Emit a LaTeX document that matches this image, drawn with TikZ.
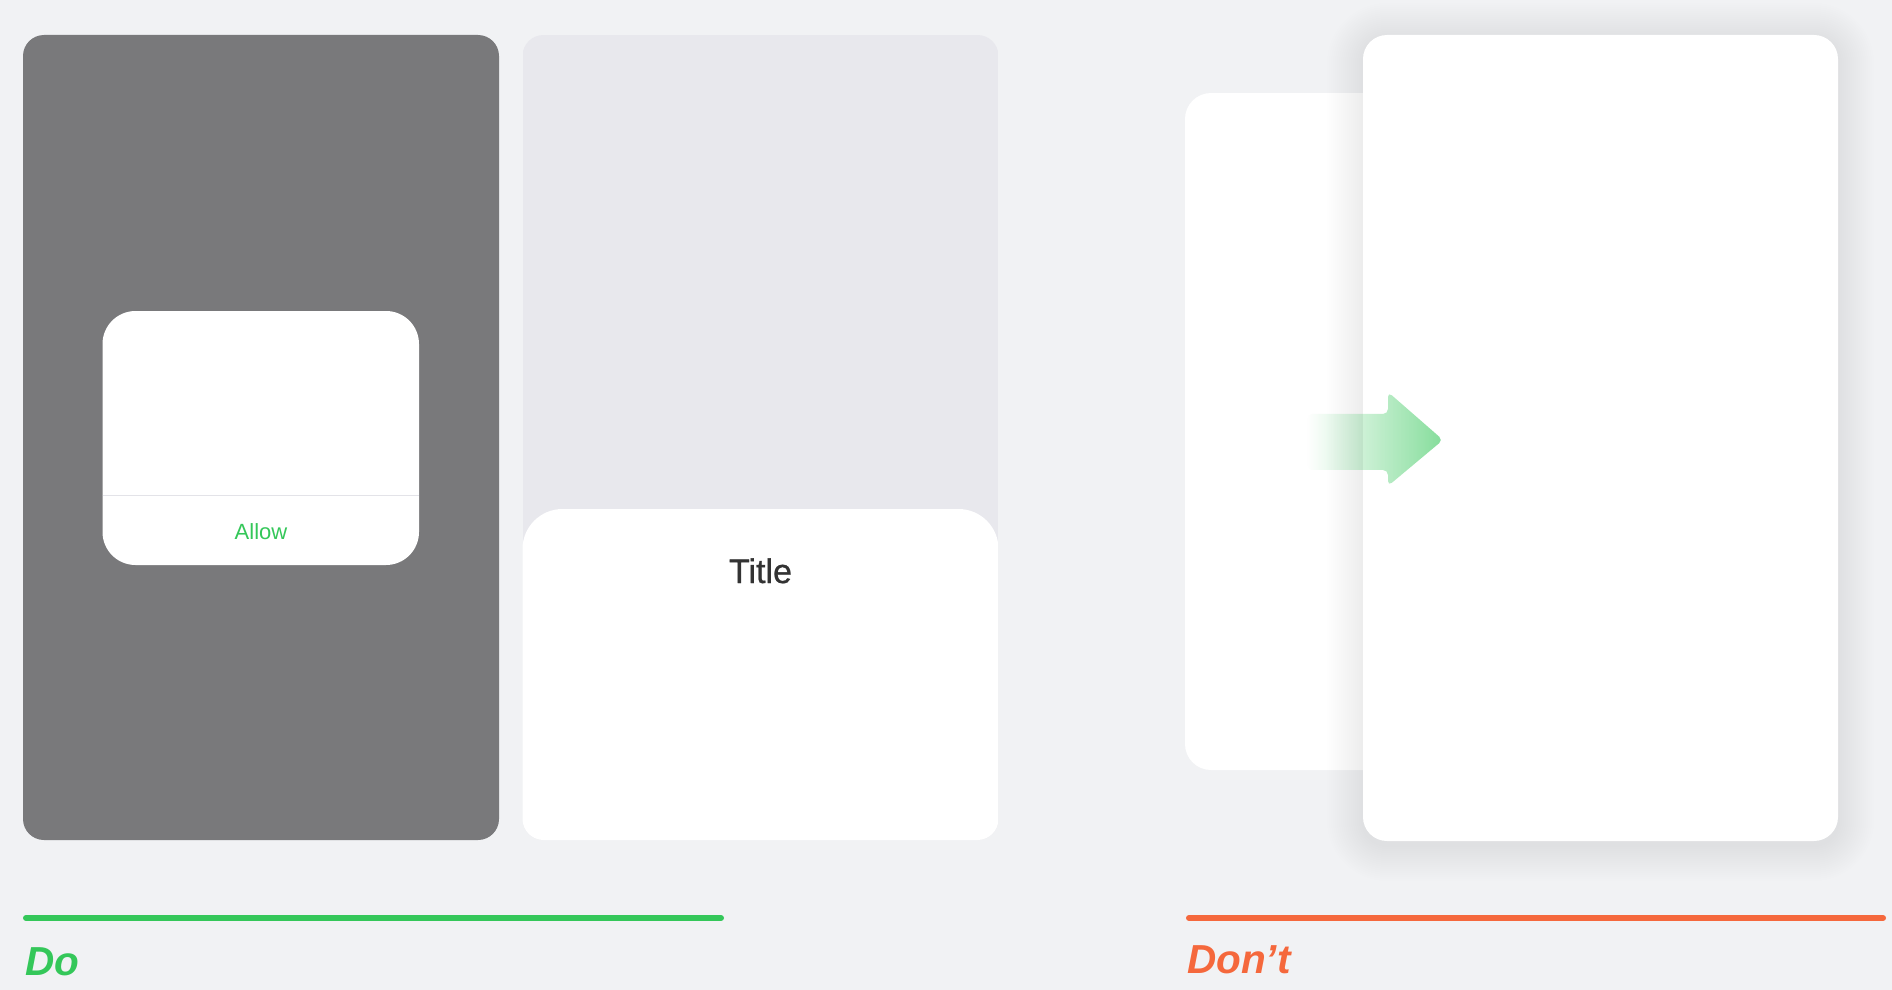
\documentclass[tikz,border=0pt]{standalone}
\usepackage{fontspec}
\setmainfont{Liberation Sans}
\newfontfamily\medfont[FakeBold=0.8]{Liberation Sans}
\usetikzlibrary{fadings}
\definecolor{bg}{HTML}{F1F2F4}
\definecolor{dim}{HTML}{79797B}
\definecolor{sheetbg}{HTML}{E8E8ED}
\definecolor{okgreen}{HTML}{34C759}
\definecolor{badorange}{HTML}{F5683C}
\definecolor{divider}{HTML}{E3E3E8}
\definecolor{titlegray}{HTML}{333333}
\tikzfading[name=arrowfade, left color=transparent!100, right color=transparent!0]
\begin{document}
\begin{tikzpicture}[x=1pt,y=-1pt,
  rule/.style={line width=6pt, line cap=round},
  verdict/.style={anchor=base west, inner sep=0pt, font=\fontsize{40.5}{48}\selectfont\bfseries\itshape},
  card/.style={fill=white, rounded corners=24pt}]
% background
\fill[bg] (0,0) rectangle (1892,990);
\useasboundingbox (0,0) rectangle (1892,990);

% ---- Do: panel 1 (dimmed with alert)
\fill[dim, rounded corners=21pt] (23,35) rectangle (499,840);
\fill[white, rounded corners=33pt] (102.5,311) rectangle (419,565);
\draw[divider, line width=1pt] (102.5,495.5) -- (419,495.5);
\node[anchor=base, inner sep=0pt, text=okgreen, font=\fontsize{22}{26}\selectfont] (allow) at (261,539) {Allow};

% ---- Do: panel 2 (sheet)
\begin{scope}
  \clip[rounded corners=21pt] (522.5,35) rectangle (998.5,840);
  \fill[sheetbg] (522.5,35) rectangle (998.5,840);
  \fill[white, rounded corners=40pt] (522.5,509) rectangle (998.5,900);
\end{scope}
\node[anchor=base, inner sep=0pt, text=titlegray, font=\medfont\fontsize{34}{40}\selectfont] (title) at (760.5,583) {Title};

% ---- Don't: push transition
\fill[white, rounded corners=26pt] (1185,93) rectangle (1500,770);
\foreach \r [evaluate=\r as \rc using 24+\r] in {2,4,...,36}
  \fill[black, fill opacity=0.0022, rounded corners=\rc pt] ({1363-\r},{39-\r}) rectangle ({1838+\r},{845+\r});
\fill[card] (1363,35) rectangle (1838,841);
\fill[okgreen, fill opacity=0.6, path fading=arrowfade, rounded corners=5pt]
  (1307,414) -- (1388,414) -- (1388,392) -- (1443,440) -- (1388,486) -- (1388,470) -- (1307,470) -- cycle;

% ---- labels
\coordinate (dol) at (26,918);
\coordinate (dor) at (721,918);
\coordinate (dnl) at (1189,918);
\coordinate (dnr) at (1883,918);
\draw[rule, okgreen] (dol) -- (dor);
\draw[rule, badorange] (dnl) -- (dnr);
\node[verdict, text=okgreen] (do) at (25,975) {Do};
\node[verdict, text=badorange] (dont) at (1187,973) {Don’t};
\end{tikzpicture}
\end{document}
